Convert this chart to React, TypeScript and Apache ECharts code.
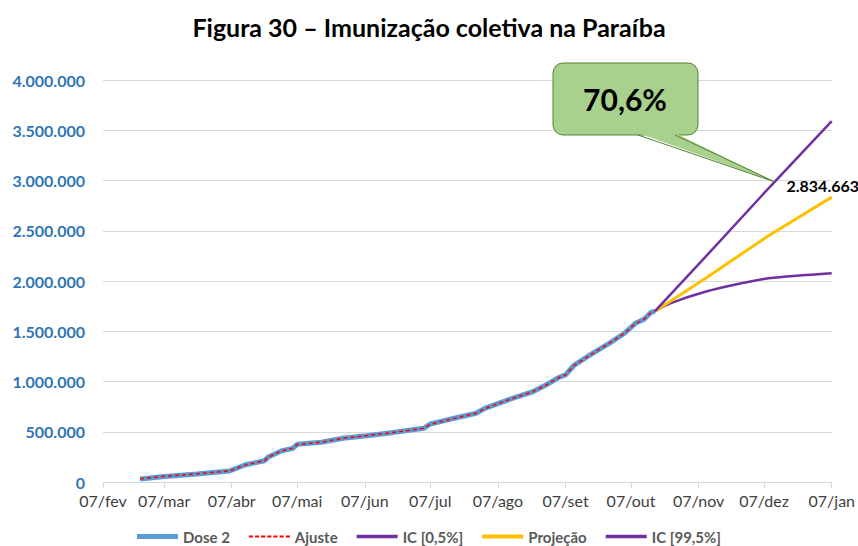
import React, { useEffect, useRef } from "react";
import * as echarts from "echarts";

// ---- data ----
const TITLE = "Figura 30 – Imunização coletiva na Paraíba";
const MONTHS = ["jan", "fev", "mar", "abr", "mai", "jun", "jul", "ago", "set", "out", "nov", "dez"];
const START_DATE = [2021, 1, 7]; // 07/fev/2021
const END_DATE = [2022, 0, 7]; // 07/jan/2022

const dose2Dates = [
  "24/fev", "06/mar", "22/mar", "06/abr", "13/abr", "22/abr", "24/abr", "30/abr", "05/mai", "07/mai",
  "18/mai", "28/mai", "08/jun", "19/jun", "04/jul", "07/jul", "18/jul", "28/jul", "01/ago", "15/ago",
  "23/ago", "29/ago", "04/set", "07/set", "11/set", "19/set", "27/set", "04/out", "09/out", "13/out",
  "16/out", "18/out",
];
const dose2Values = [
  30000, 53000, 80000, 109000, 169000, 212000, 252000, 311000, 335000, 375000,
  395000, 435000, 461000, 491000, 534000, 577000, 634000, 684000, 733000, 843000,
  898000, 965000, 1042000, 1065000, 1164000, 1274000, 1380000, 1480000, 1579000, 1619000,
  1685000, 1700000,
];
const ajusteDates = dose2Dates;
const ajusteValues = [
  32000, 54000, 81000, 110000, 168000, 213000, 250000, 310000, 337000, 372000,
  396000, 434000, 462000, 490000, 535000, 575000, 633000, 685000, 731000, 842000,
  899000, 963000, 1040000, 1066000, 1162000, 1273000, 1381000, 1479000, 1577000, 1620000,
  1683000, 1700000,
];
const icLowDates = ["18/out", "25/out", "10/nov", "25/nov", "09/dez", "07/jan"];
const icLowValues = [1700000, 1778000, 1893000, 1970000, 2027000, 2077000];
const projDates = ["18/out", "10/nov", "09/dez", "07/jan"];
const projValues = [1700000, 2025000, 2450000, 2834663];
const icHighDates = ["18/out", "10/nov", "10/dez", "07/jan"];
const icHighValues = [1700000, 2237000, 2945000, 3590000];
const calloutText = "70,6%";

const yTicks = { min: 0, max: 4000000, interval: 500000 };

function fmt(n: number): string {
  return String(Math.round(n)).replace(/\B(?=(\d{3})+(?!\d))/g, ".");
}

function buildCategories(): string[] {
  const out: string[] = [];
  const d = new Date(START_DATE[0], START_DATE[1], START_DATE[2]);
  const end = new Date(END_DATE[0], END_DATE[1], END_DATE[2]);
  while (d.getTime() <= end.getTime()) {
    const dd = String(d.getDate()).padStart(2, "0");
    out.push(`${dd}/${MONTHS[d.getMonth()]}`);
    d.setDate(d.getDate() + 1);
  }
  return out;
}

function pairs(dates: string[], values: number[]) {
  return dates.map((d, i) => [d, values[i]]);
}

function dashIcon(): string {
  let p = "path://";
  for (let x = 0; x < 41; x += 6) p += `M${x},0h4v2h-4z `;
  return p.trim();
}

const FONT = "Lato, 'Open Sans', sans-serif";
const BLUE = "#5B9BD5";
const RED = "#FF0000";
const PURPLE = "#7030A0";
const GOLD = "#FFC000";

export default function App() {
  const ref = useRef<HTMLDivElement>(null);

  useEffect(() => {
    if (!ref.current) return;
    const chart = echarts.init(ref.current, null, { renderer: "svg" });
    const categories = buildCategories();
    const isMonthTick = (_i: number, v: string) => v.startsWith("07/");
    const lastProj = projValues.length - 1;

    const option: any = {
      animation: false,
      backgroundColor: "#fff",
      title: {
        text: TITLE,
        left: "center",
        top: 9,
        textStyle: { fontFamily: FONT, fontWeight: "bold", fontSize: 25, color: "#000" },
      },
      grid: { left: 103, right: 26, top: 80, bottom: 64, containLabel: false },
      xAxis: {
        type: "category",
        data: categories,
        boundaryGap: false,
        axisLine: { lineStyle: { color: "#D9D9D9", width: 1 } },
        axisTick: { show: true, interval: isMonthTick, length: 6, lineStyle: { color: "#D9D9D9" } },
        axisLabel: {
          interval: isMonthTick,
          color: "#404040",
          fontFamily: FONT,
          fontSize: 16,
          margin: 10,
        },
        splitLine: { show: false },
      },
      yAxis: {
        type: "value",
        min: yTicks.min,
        max: yTicks.max,
        interval: yTicks.interval,
        axisLine: { show: false },
        axisTick: { show: false },
        splitLine: { lineStyle: { color: "#D9D9D9", width: 1 } },
        axisLabel: {
          formatter: (v: number) => fmt(v),
          color: "#2E75B6",
          fontFamily: FONT,
          fontWeight: "bold",
          fontSize: 16,
          margin: 18,
        },
      },
      legend: {
        bottom: 2,
        padding: 0,
        left: "center",
        itemWidth: 41,
        itemHeight: 6,
        itemGap: 19,
        symbolKeepAspect: true,
        itemStyle: { borderWidth: 0 },
        textStyle: { fontFamily: FONT, fontSize: 15, fontWeight: "bold", color: "#595959" },
        data: [
          { name: "Dose 2", icon: "path://M0,0h41v5h-41z", itemStyle: { color: BLUE } },
          { name: "Ajuste", icon: dashIcon(), itemStyle: { color: RED } },
          { name: "IC [0,5%]", icon: "path://M0,0h41v3.5h-41z", itemStyle: { color: PURPLE } },
          { name: "Projeção", icon: "path://M0,0h41v4h-41z", itemStyle: { color: GOLD } },
          { name: "IC [99,5%]", icon: "path://M0,0h41v3.5h-41z", itemStyle: { color: PURPLE } },
        ],
      },
      series: [
        {
          name: "Dose 2",
          type: "line",
          data: pairs(dose2Dates, dose2Values),
          symbol: "none",
          lineStyle: { color: BLUE, width: 5 },
          itemStyle: { color: BLUE },
          z: 2,
        },
        {
          name: "Ajuste",
          type: "line",
          data: pairs(ajusteDates, ajusteValues),
          symbol: "none",
          lineStyle: { color: RED, width: 1.5, type: [4, 3] },
          itemStyle: { color: RED },
          z: 3,
        },
        {
          name: "IC [0,5%]",
          type: "line",
          data: pairs(icLowDates, icLowValues),
          symbol: "none",
          smooth: 0.3,
          lineStyle: { color: PURPLE, width: 2.5 },
          itemStyle: { color: PURPLE },
          z: 4,
        },
        {
          name: "Projeção",
          type: "line",
          data: pairs(projDates, projValues),
          symbol: "none",
          lineStyle: { color: GOLD, width: 3 },
          itemStyle: { color: GOLD },
          z: 4,
          markPoint: {
            symbol: "circle",
            symbolSize: 0,
            silent: true,
            data: [
              {
                coord: [projDates[lastProj], projValues[lastProj]],
                value: projValues[lastProj],
              },
            ],
            label: {
              show: true,
              position: "top",
              distance: 4,
              offset: [-9, 0],
              formatter: (p: any) => fmt(p.value),
              fontFamily: FONT,
              fontWeight: "bold",
              fontSize: 16,
              color: "#000",
            },
          },
        },
        {
          name: "IC [99,5%]",
          type: "line",
          data: pairs(icHighDates, icHighValues),
          symbol: "none",
          lineStyle: { color: PURPLE, width: 2.5 },
          itemStyle: { color: PURPLE },
          z: 4,
        },
      ],
      graphic: [
        {
          type: "rect",
          shape: { x: 553, y: 63, width: 145, height: 72, r: 10 },
          style: { fill: "#A9D18E", stroke: "#548235", lineWidth: 1 },
          z: 100,
        },
        {
          type: "polygon",
          shape: { points: [[638, 133], [775, 182], [675, 133]] },
          style: { fill: "#A9D18E" },
          z: 101,
        },
        {
          type: "polyline",
          shape: { points: [[638, 135], [775, 182], [675, 135]] },
          style: { stroke: "#548235", lineWidth: 1, fill: null },
          z: 102,
        },
        {
          type: "text",
          x: 625,
          y: 99,
          style: {
            text: calloutText,
            fontFamily: FONT,
            fontWeight: "bold",
            fontSize: 30,
            fill: "#000",
            textAlign: "center",
            textVerticalAlign: "middle",
          },
          z: 103,
        },
      ],
    };
    chart.setOption(option);
    return () => chart.dispose();
  }, []);

  return (
    <div
      ref={ref}
      style={{ position: "fixed", left: 0, top: 0, width: 858, height: 546, background: "#fff" }}
    />
  );
}
